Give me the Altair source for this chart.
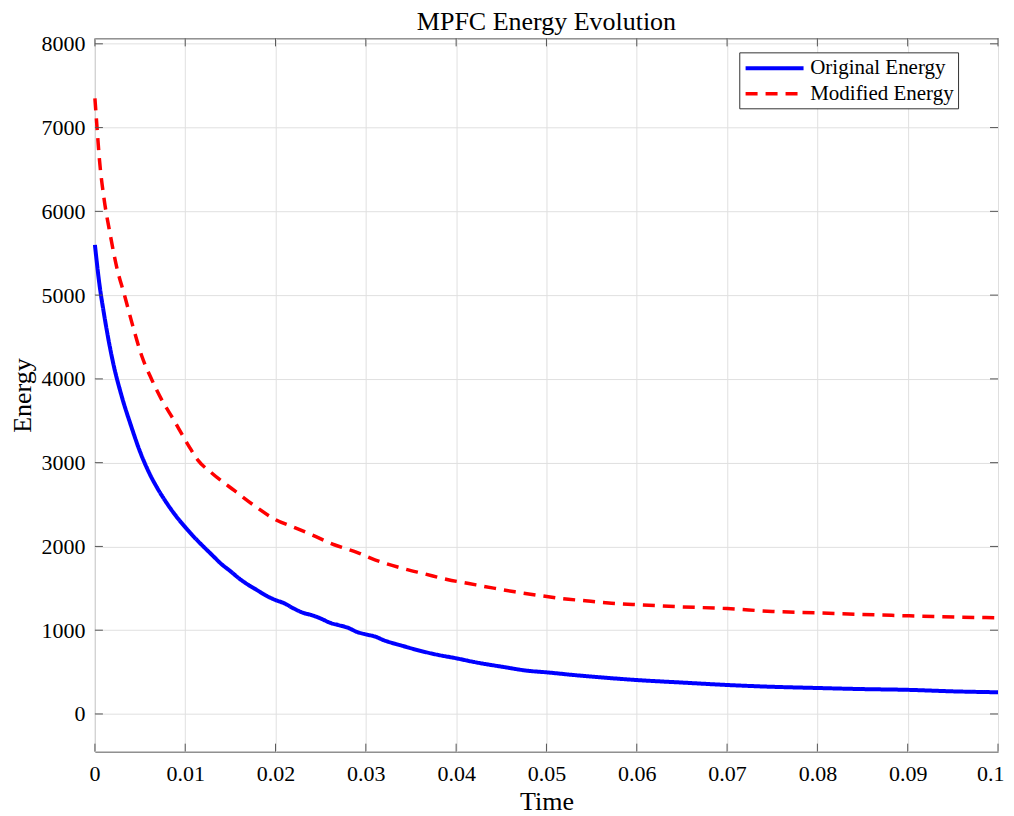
import altair as alt
import pandas as pd

# ---- data ----
t_orig = [0, 0.0005, 0.001, 0.002, 0.003, 0.004, 0.005, 0.006, 0.007, 0.008, 0.009,
          0.010, 0.011, 0.012, 0.013, 0.014, 0.015, 0.016, 0.017, 0.018, 0.019,
          0.020, 0.021, 0.022, 0.023, 0.024, 0.025, 0.026, 0.027, 0.028, 0.029,
          0.030, 0.031, 0.032, 0.034, 0.036, 0.038, 0.040, 0.042, 0.045, 0.048,
          0.050, 0.053, 0.056, 0.060, 0.065, 0.070, 0.074, 0.080, 0.085, 0.090,
          0.095, 0.100]
e_orig = [5600, 5130, 4780, 4200, 3780, 3440, 3130, 2880, 2680, 2510, 2360,
          2230, 2110, 2000, 1895, 1790, 1705, 1615, 1540, 1475, 1410,
          1360, 1320, 1260, 1210, 1180, 1140, 1090, 1060, 1030, 980,
          950, 925, 880, 815, 755, 705, 665, 620, 565, 515,
          497, 465, 437, 405, 375, 346, 328, 310, 297, 288,
          270, 259]

t_mod = [0, 0.0002, 0.0005, 0.001, 0.0017, 0.0024, 0.0033, 0.0042, 0.0052, 0.0063,
         0.0074, 0.0087, 0.010, 0.0105, 0.0114, 0.0129, 0.0155, 0.0177, 0.020,
         0.022, 0.024, 0.0265, 0.029, 0.031, 0.034, 0.0366, 0.039, 0.0414, 0.044,
         0.0465, 0.049, 0.0517, 0.0543, 0.0572, 0.060, 0.0646, 0.070, 0.075,
         0.080, 0.085, 0.090, 0.0956, 0.100]
e_mod = [7350, 7050, 6620, 6160, 5720, 5340, 4990, 4630, 4270, 3990,
         3750, 3516, 3270, 3180, 3030, 2880, 2662, 2483, 2320,
         2230, 2140, 2020, 1930, 1840, 1740, 1670, 1605, 1557, 1505,
         1458, 1418, 1378, 1351, 1323, 1305, 1280, 1258, 1224,
         1207, 1188, 1172, 1156, 1148]

series_names = ["Original Energy", "Modified Energy"]
series_colors = ["#0000FF", "#FF0000"]
series_dash = [[1, 0], [12, 8]]
series_width = [4, 3.5]

x_ticks = [0, 0.01, 0.02, 0.03, 0.04, 0.05, 0.06, 0.07, 0.08, 0.09, 0.1]
y_ticks = [0, 1000, 2000, 3000, 4000, 5000, 6000, 7000, 8000]

x_domain = [0, 0.1]
y_domain = [-450, 8065]

W, H = 904, 714
FONT = "Liberation Serif"
FRAME = "#555555"

df = pd.concat([
    pd.DataFrame({"t": t_orig, "E": e_orig, "series": series_names[0]}),
    pd.DataFrame({"t": t_mod, "E": e_mod, "series": series_names[1]}),
], ignore_index=True)
df_xt = pd.DataFrame({"t": x_ticks})
df_yt = pd.DataFrame({"E": y_ticks})

x_enc = alt.X("t:Q", scale=alt.Scale(domain=x_domain, nice=False, zero=False),
              axis=alt.Axis(values=x_ticks, format=".2~f", title="Time",
                            labelFlush=True, labelFlushOffset=6))
y_enc = alt.Y("E:Q", scale=alt.Scale(domain=y_domain, nice=False, zero=False),
              axis=alt.Axis(values=y_ticks, format="d", title="Energy",
                            labelFlush=False))


def make_legend():
    return alt.Legend(title=None, orient="none", legendX=645, legendY=14,
                      fillColor="white", strokeColor="#333333",
                      padding=4, labelFont=FONT, labelFontSize=21,
                      labelColor="black", labelLimit=400,
                      symbolType="M-1,0H5", symbolSize=374,
                      symbolStrokeWidth=3.5, labelOffset=43,
                      rowPadding=4)


lines = alt.Chart(df).mark_line(interpolate="monotone").encode(
    x=x_enc,
    y=y_enc,
    color=alt.Color("series:N",
                    scale=alt.Scale(domain=series_names, range=series_colors),
                    legend=make_legend()),
    strokeDash=alt.StrokeDash("series:N",
                              scale=alt.Scale(domain=series_names, range=series_dash),
                              legend=make_legend()),
    strokeWidth=alt.StrokeWidth("series:N",
                                scale=alt.Scale(domain=series_names, range=series_width),
                                legend=None),
)

xt_bottom = alt.Chart(df_xt).mark_rule(color=FRAME, strokeWidth=1).encode(
    x=x_enc, y=alt.value(H), y2=alt.value(H - 8))
xt_top = alt.Chart(df_xt).mark_rule(color=FRAME, strokeWidth=1).encode(
    x=x_enc, y=alt.value(0), y2=alt.value(8))
yt_left = alt.Chart(df_yt).mark_rule(color=FRAME, strokeWidth=1).encode(
    y=y_enc, x=alt.value(0), x2=alt.value(8))
yt_right = alt.Chart(df_yt).mark_rule(color=FRAME, strokeWidth=1).encode(
    y=y_enc, x=alt.value(W), x2=alt.value(W - 8))

chart = alt.layer(lines, xt_bottom, xt_top, yt_left, yt_right).properties(
    width=W, height=H,
    title=alt.TitleParams("MPFC Energy Evolution", font=FONT, fontSize=26,
                          fontWeight="normal", color="black", offset=-2),
    padding={"left": 2, "top": 0, "right": 0, "bottom": 0},
).configure_view(
    stroke=FRAME, strokeWidth=1
).configure_axis(
    ticks=False, domain=False, grid=True, gridColor="#e0e0e0", gridWidth=1,
    labelFont=FONT, labelFontSize=22, labelColor="black", labelPadding=10,
    titleFont=FONT, titleFontSize=26, titleFontWeight="normal", titleColor="black",
).configure_axisX(
    labelPadding=12, titlePadding=4
).configure_axisY(
    titlePadding=5
)

chart.save("out.html", embed_options={"renderer": "svg", "actions": False})
